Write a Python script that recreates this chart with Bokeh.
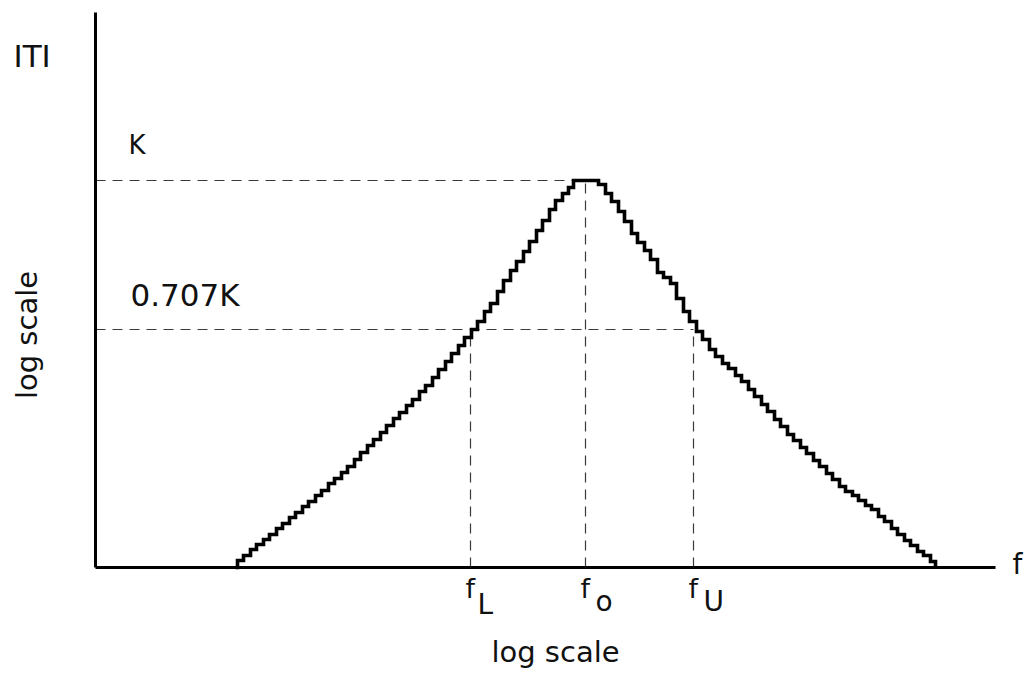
import numpy as np
from bokeh.plotting import figure
from bokeh.models import Range1d
from bokeh.core.properties import value
from bokeh.embed import file_html
from bokeh.resources import INLINE

# ---- data (log f position, log |T| level), arbitrary log units ----
rise_x = [140, 142, 148, 155, 161, 168, 174, 181, 187, 194, 200, 207, 213, 220, 226,
          233, 239, 246, 252, 259, 265, 272, 278, 285, 291, 298, 304, 311, 317, 324,
          330, 337, 343, 350, 356, 363, 369, 376, 382, 389, 395, 402, 408, 415, 421,
          428, 434, 441, 447, 454, 460, 467, 473, 478]
rise_y = [0, 7, 12, 18, 23, 28, 33, 39, 44, 50, 55, 61, 66, 72, 77,
          84, 89, 95, 101, 108, 115, 122, 128, 135, 142, 149, 155, 162, 168, 176,
          182, 190, 198, 206, 214, 222, 230, 238, 246, 256, 264, 276, 287, 297, 306,
          316, 326, 337, 347, 358, 367, 374, 380, 387]
fall_x = [503, 510, 516, 523, 529, 536, 542, 549, 555, 562, 568, 575, 581, 588, 594,
          601, 607, 614, 620, 627, 633, 640, 646, 653, 659, 666, 672, 679, 685, 692,
          698, 705, 711, 718, 724, 731, 737, 744, 750, 757, 763, 770, 776, 783, 789,
          796, 802, 809, 815, 822, 828, 835, 840]
fall_y = [383, 374, 366, 356, 346, 334, 325, 317, 308, 295, 290, 284, 269, 256, 246,
          236, 228, 218, 211, 204, 199, 192, 186, 178, 171, 163, 156, 148, 141, 133,
          127, 120, 114, 107, 101, 94, 88, 81, 76, 72, 67, 62, 58, 51, 46,
          39, 33, 27, 22, 16, 12, 6, 0]

f_names = ["L", "o", "U"]
f_values = [375, 490, 598]          # fL, fo, fU
f_heights = [238, 387, 238]         # curve level at each marker
K_level = 387
K707_level = 238
level_labels = ["K", "0.707K"]
x_axis_end = 900
y_axis_end = 555

curve_x = rise_x + fall_x
curve_y = rise_y + fall_y

FONT = value("DejaVu Sans")

p = figure(width=1027, height=683, output_backend="svg", toolbar_location=None,
           x_range=Range1d(-95, 932), y_range=Range1d(-116, 567),
           x_axis_type=None, y_axis_type=None, min_border=0,
           background_fill_color="white", border_fill_color="white")
p.grid.visible = False
p.outline_line_color = None

# dashed guide lines
dash = dict(line_color="#3a3a3a", line_width=1.2, line_dash="10 7")
p.segment(x0=[0, 0], y0=[K_level, K707_level], x1=[f_values[1], f_values[2]],
          y1=[K_level, K707_level], **dash)
p.segment(x0=f_values, y0=[0, 0, 0], x1=f_values, y1=f_heights, **dash)

# axes
p.segment(x0=[0, 0], y0=[0, 0], x1=[0, x_axis_end], y1=[y_axis_end, 0],
          line_color="black", line_width=3)

# staircase curve
p.step(curve_x, curve_y, mode="after", line_color="black", line_width=3.6,
       line_join="miter")

# texts
p.text(x=[0], y=[y_axis_end], text=["ITI"], x_offset=-82, y_offset=61,
       text_font=FONT, text_font_size="31px", text_color="#111111")
p.text(x=[0, 0], y=[K_level, K707_level], text=level_labels, x_offset=[33, 35],
       y_offset=[-21, -17], text_font=FONT, text_font_size=["26px", "31px"],
       text_color="#111111")
p.text(x=[0], y=[(K_level + K707_level) / 2 - 80], text=["log scale"], angle=np.pi / 2,
       x_offset=-69, text_align="center", text_baseline="middle",
       text_font=FONT, text_font_size="29px", text_color="#111111")
p.text(x=[f_values[1] - 30], y=[0], text=["log scale"], y_offset=101, text_align="center",
       text_font=FONT, text_font_size="29px", text_color="#111111")
p.text(x=[x_axis_end], y=[0], text=["f"], x_offset=17, y_offset=13,
       text_font=FONT, text_font_size="28px", text_color="#111111")
p.text(x=f_values, y=[0, 0, 0], text=["f", "f", "f"], x_offset=-5, y_offset=36,
       text_font=FONT, text_font_size="27px", text_color="#111111")
p.text(x=f_values, y=[0, 0, 0], text=f_names, x_offset=[7, 10, 10], y_offset=[53, 50, 50],
       text_font=FONT, text_font_size="28px", text_color="#111111")

open("out.html", "w").write(file_html(p, INLINE))
